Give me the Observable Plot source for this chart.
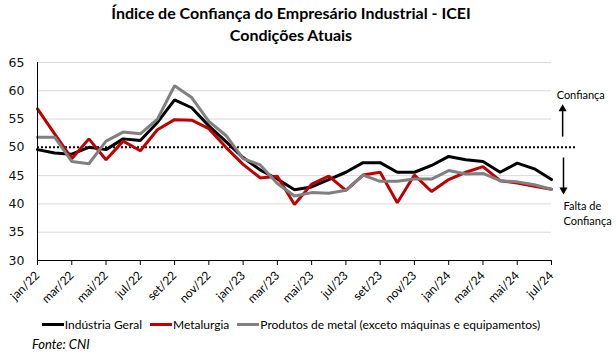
<!DOCTYPE html>
<html><head><meta charset="utf-8">
<script src="https://cdn.jsdelivr.net/npm/d3@7"></script>
<script src="https://cdn.jsdelivr.net/npm/@observablehq/plot@0.6"></script>
<style>
body{margin:0;background:#fff;width:616px;height:355px;overflow:hidden;font-family:Lato,sans-serif;color:#000}
#title{font-weight:bold;font-size:16px;text-align:center;line-height:22px;padding-top:2px;height:46px;width:582px}
#legend{display:flex;justify-content:center;width:582px;font-size:12px;height:20px;align-items:center;margin-top:4px}
#legend .it{display:flex;align-items:center;margin:0 4px}
#legend .sw{width:22px;height:3px;margin-right:1px}
#caption{font-style:italic;font-size:13px;padding-left:32px;margin-top:2px}
</style></head><body>
<div id="title">Índice de Confiança do Empresário Industrial - ICEI<br>Condições Atuais</div>
<div id="chart"></div>
<div id="legend"></div>
<div id="caption">Fonte: CNI</div>
<script>
const months = ["jan/22","fev/22","mar/22","abr/22","mai/22","jun/22","jul/22","ago/22","set/22","out/22","nov/22","dez/22",
  "jan/23","fev/23","mar/23","abr/23","mai/23","jun/23","jul/23","ago/23","set/23","out/23","nov/23","dez/23",
  "jan/24","fev/24","mar/24","abr/24","mai/24","jun/24","jul/24"];
const industriaGeral = [49.6,49.0,48.8,50.0,49.6,51.5,51.2,54.4,58.4,57.0,53.8,51.0,48.2,46.0,44.4,42.5,43.0,44.3,45.6,47.3,47.3,45.6,45.6,46.8,48.4,47.8,47.5,45.6,47.2,46.2,44.3];
const metalurgia = [56.8,52.4,48.0,51.5,47.8,51.1,49.4,53.1,54.9,54.8,53.3,50.0,47.0,44.6,44.9,39.9,43.5,44.9,42.4,45.1,45.6,40.2,45.1,42.2,44.3,45.6,46.6,44.1,43.7,43.1,42.6];
const produtosMetal = [51.8,51.8,47.5,47.1,51.1,52.7,52.4,55.0,60.9,58.8,54.6,52.1,48.0,46.9,43.6,41.4,42.0,41.9,42.4,45.1,44.0,44.0,44.4,44.4,45.9,45.3,45.4,44.1,43.9,43.4,42.6];
const seriesNames = ["Indústria Geral","Metalurgia","Produtos de metal (exceto máquinas e equipamentos)"];
const seriesColors = ["#000000","#c00000","#808080"];
const yTicks = [30,35,40,45,50,55,60,65];
const neutralLevel = 50;
const annotLabels = ["Confiança","Falta de\nConfiança"];

const seriesValues = [industriaGeral, metalurgia, produtosMetal];
const rows = [];
seriesValues.forEach((vals, s) => vals.forEach((v, i) => rows.push({i, value: v, series: seriesNames[s]})));
const tickIdx = months.map((m, i) => i).filter(i => i % 2 === 0);

const chart = Plot.plot({
  width: 616, height: 262,
  marginLeft: 37, marginRight: 65, marginTop: 14, marginBottom: 50,
  style: {fontFamily: "Lato", color: "#000", background: "#fff"},
  x: {type: "linear", domain: [0, months.length - 1], axis: null},
  y: {domain: [yTicks[0], yTicks[yTicks.length - 1]], axis: null},
  color: {domain: seriesNames, range: seriesColors},
  marks: [
    Plot.ruleY(yTicks.filter(t => t !== yTicks[0] && t !== neutralLevel), {stroke: "#d9d9d9", strokeWidth: 1}),
    Plot.ruleY([neutralLevel], {x1: 0, x2: 31.4, stroke: "#000", strokeWidth: 2, strokeDasharray: "2,2"}),
    Plot.lineY(rows, {x: "i", y: "value", z: "series", stroke: "series", strokeWidth: 3, strokeLinejoin: "miter"}),
    Plot.ruleX([0], {stroke: "#000", strokeWidth: 1}),
    Plot.ruleY([yTicks[0]], {stroke: "#000", strokeWidth: 1}),
    Plot.axisY({ticks: yTicks, label: null, tickSize: 0, tickPadding: 13, fontSize: 12.5, fontFamily: "DejaVu Sans", fill: "#111"}),
    Plot.axisX({ticks: tickIdx, label: null, tickFormat: i => months[i], tickRotate: -45, tickSize: 5, tickPadding: 8, fontSize: 12, stroke: "#000"}),
    Plot.link([0], {x1: () => 30.65, x2: () => 30.65, y1: () => 51.9, y2: () => 57.3, stroke: "#000", strokeWidth: 1.5}),
    Plot.dot([0], {x: () => 30.65, y: () => 56.8, symbol: "triangle", r: 3, fill: "#000", stroke: "none"}),
    Plot.link([0], {x1: () => 30.7, x2: () => 30.7, y1: () => 48.2, y2: () => 42.0, stroke: "#000", strokeWidth: 1.5}),
    Plot.dot([0], {x: () => 30.7, y: () => 42.5, symbol: "triangle", r: 3, fill: "#000", stroke: "none", rotate: 180}),
    Plot.text([annotLabels[0]], {x: () => 30.3, y: () => 59.2, text: d => d, textAnchor: "start", fontSize: 11, fill: "#000"}),
    Plot.text([annotLabels[1]], {x: () => 30.7, y: () => 38.4, text: d => d, textAnchor: "start", fontSize: 11, lineHeight: 1.35, fill: "#000"})
  ]
});
document.getElementById("chart").appendChild(chart);

const legend = document.getElementById("legend");
seriesNames.forEach((n, k) => {
  const it = document.createElement("div"); it.className = "it";
  const sw = document.createElement("div"); sw.className = "sw"; sw.style.background = seriesColors[k];
  const t = document.createElement("span"); t.textContent = n;
  it.appendChild(sw); it.appendChild(t); legend.appendChild(it);
});
</script>
</body></html>
